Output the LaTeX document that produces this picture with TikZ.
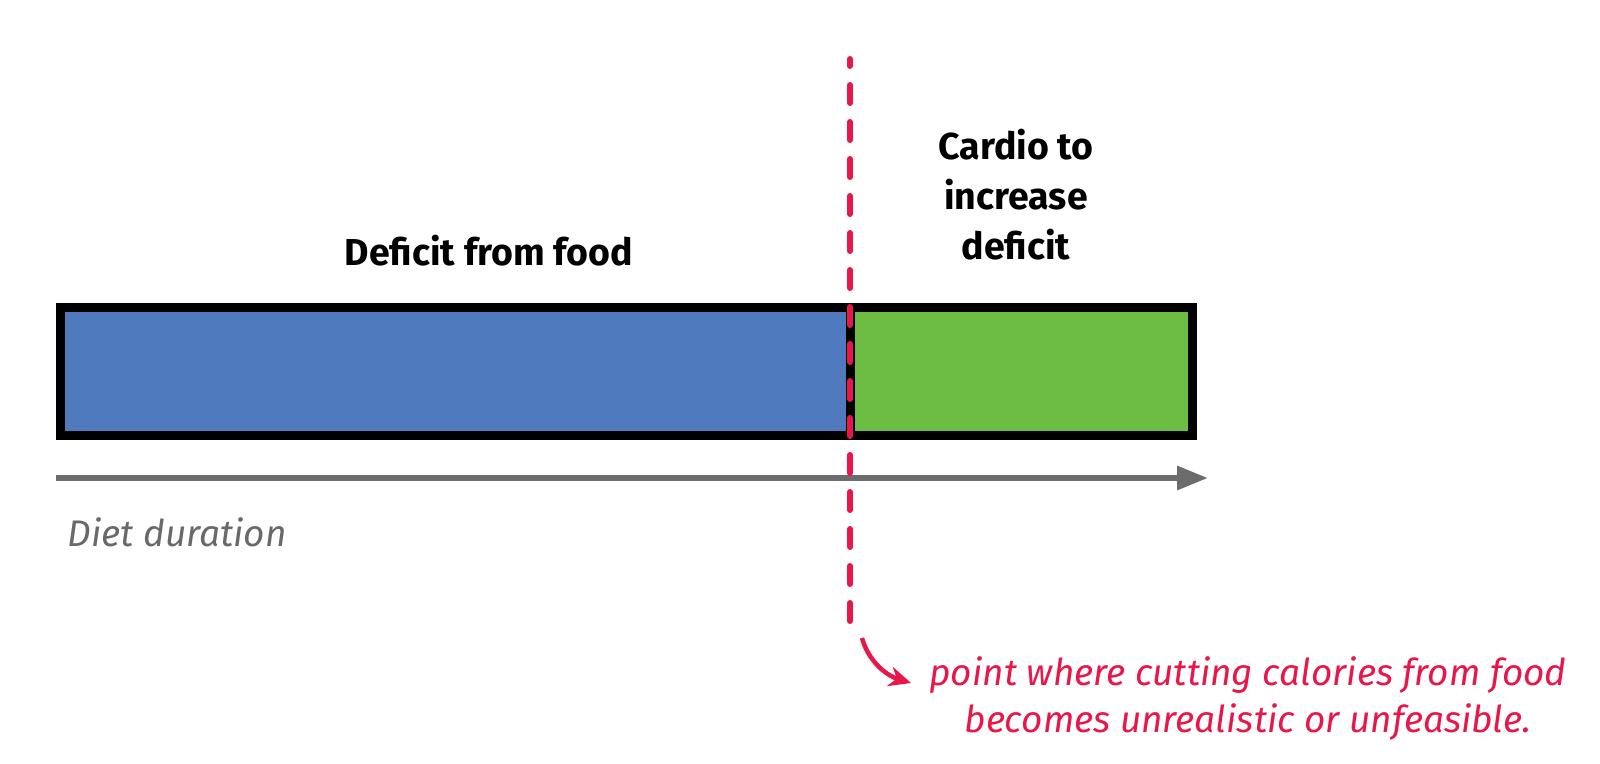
\documentclass[tikz,border=0pt]{standalone}
\usepackage{fontspec}
\setmainfont{Fira Sans}
\usetikzlibrary{arrows.meta}
\definecolor{barblue}{HTML}{4F7BBE}
\definecolor{bargreen}{HTML}{6DBD45}
\definecolor{accentred}{HTML}{E8174A}
\definecolor{axisgray}{HTML}{6B6C6B}
\definecolor{labelgray}{HTML}{696969}
\begin{document}
\begin{tikzpicture}[x=1pt,y=-1pt,
  bar/.style={draw=black,line width=9pt,rectangle,inner sep=0pt,minimum height=128pt},
  heading/.style={font=\fontsize{37.5}{50}\selectfont\bfseries,align=center,text=black},
  note/.style={font=\fontsize{37}{47}\selectfont\itshape,align=center,text=accentred},
  axislabel/.style={font=\fontsize{37}{40}\selectfont\itshape,text=labelgray,anchor=west},
  axis/.style={draw=axisgray,line width=6pt,-{Triangle[length=31pt,width=23pt]}},
  cut/.style={draw=accentred,line width=6pt,line cap=round,dash pattern=on 18pt off 19pt,dash phase=11pt},
  pointer/.style={draw=accentred,line width=4.5pt,-{Stealth[length=22pt,width=20pt]}}]
\useasboundingbox (0,0) rectangle (1600,763);
% bars
\node[bar,fill=barblue,minimum width=789.5pt] (food) at (455.25,371.5) {};
\node[bar,fill=bargreen,minimum width=342pt] (cardio) at (1021,371.5) {};
% axis
\coordinate (axstart) at (56,478);
\coordinate (axend) at (1208,478);
\draw[axis] (axstart) -- (axend);
% labels
\node[heading] (foodlbl) at (489,251) {Deficit from food};
\node[heading] (cardiolbl) at (1016,195) {Cardio to\\increase\\deficit};
\node[axislabel] (duration) at (64,532) {Diet duration};
% dashed cut line
\coordinate (cuttop) at (850,59);
\coordinate (cutbot) at (850,623);
\draw[cut] (cuttop) -- (cutbot);
% pointer
\coordinate (ptrstart) at (862,638);
\node[note] (notetext) at (1248,698) {point where cutting calories from food\\becomes unrealistic or unfeasible.};
\coordinate (ptrend) at (911,683);
\draw[pointer] (ptrstart) .. controls (868,660) and (885,675) .. (ptrend);
\end{tikzpicture}
\end{document}
